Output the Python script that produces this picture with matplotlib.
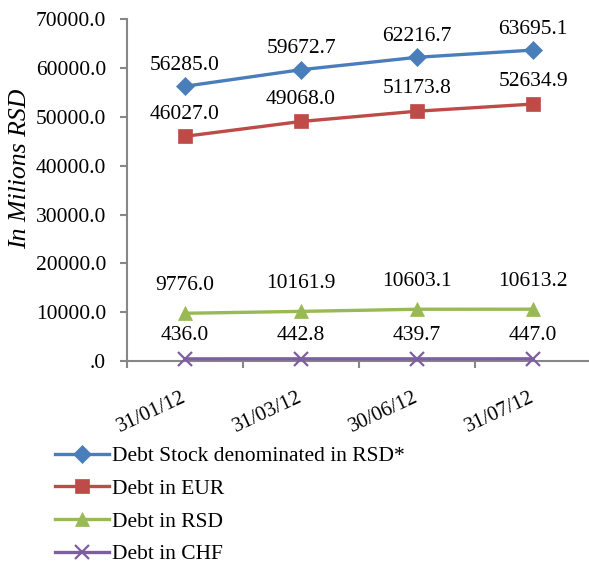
import numpy as np
import matplotlib
matplotlib.use('Agg')
import matplotlib.pyplot as plt
from matplotlib.ticker import FuncFormatter, FixedLocator

plt.rcParams['font.family'] = ['Liberation Serif', 'DejaVu Serif']

dates = ['31/01/12', '31/03/12', '30/06/12', '31/07/12']
stock_rsd = [56285.0, 59672.7, 62216.7, 63695.1]
debt_eur = [46027.0, 49068.0, 51173.8, 52634.9]
debt_rsd = [9776.0, 10161.9, 10603.1, 10613.2]
debt_chf = [436.0, 442.8, 439.7, 447.0]

labels = ['Debt Stock denominated in RSD*', 'Debt in EUR', 'Debt in RSD', 'Debt in CHF']
colors = ['#4A7EBB', '#BE4B48', '#98B954', '#7D5FA0']
markers = ['D', 's', '^', 'x']
msizes = [9, 10, 10, 10]
# label offset above each point, in points
label_off = [15, 16, 20, 17]

fig = plt.figure(figsize=(5.89, 5.65), dpi=100)
ax = fig.add_axes([127 / 589, 204 / 565, 464 / 589, 341.7 / 565])

x = np.arange(len(dates))
series = [stock_rsd, debt_eur, debt_rsd, debt_chf]
for vals, lab, c, m, ms, off in zip(series, labels, colors, markers, msizes, label_off):
    ax.plot(x, vals, color=c, lw=2.4, marker=m, ms=ms, mec=c, mfc=c,
            mew=1.6 if m == 'x' else 0.5, label=lab, clip_on=False, zorder=3)
    for xi, v in zip(x, vals):
        ax.annotate(f"{v:.1f}", (xi, v), xytext=(0, off), textcoords='offset points',
                    ha='center', va='center', fontsize=15.5)

ax.set_xlim(-0.5, 3.5)
ax.set_ylim(0, 70000)
ax.yaxis.set_major_locator(FixedLocator(np.arange(0, 70001, 10000)))
ax.yaxis.set_major_formatter(FuncFormatter(lambda v, p: f"{v:.1f}".lstrip('0') if v == 0 else f"{v:.1f}"))

ax.xaxis.set_major_locator(FixedLocator(np.arange(-0.5, 3.6, 1)))
ax.xaxis.set_major_formatter(FuncFormatter(lambda v, p: ''))
ax.set_xticks(x, dates, minor=True, rotation=25, ha='right', va='center',
              rotation_mode='anchor')
ax.tick_params(axis='x', which='minor', length=0, pad=26, labelsize=15)
ax.tick_params(axis='x', which='major', length=5, width=1.5, color='#878787', direction='out')
ax.tick_params(axis='y', length=5, width=1.5, color='#878787', direction='out', pad=10, labelsize=15.5)

for s in ['top', 'right']:
    ax.spines[s].set_visible(False)
for s in ['left', 'bottom']:
    ax.spines[s].set_color('#878787')
    ax.spines[s].set_linewidth(1.5)

ax.set_ylabel('In Milions RSD', fontsize=18.5, style='italic')
ax.yaxis.set_label_coords(-0.207, 0.563)

fig.legend(loc='upper left', bbox_to_anchor=(36 / 589, 1 - 427 / 565), frameon=False,
           fontsize=15.5, handlelength=2.5, handletextpad=0.15, labelspacing=0.58)

fig.savefig('out.png', dpi=100)
